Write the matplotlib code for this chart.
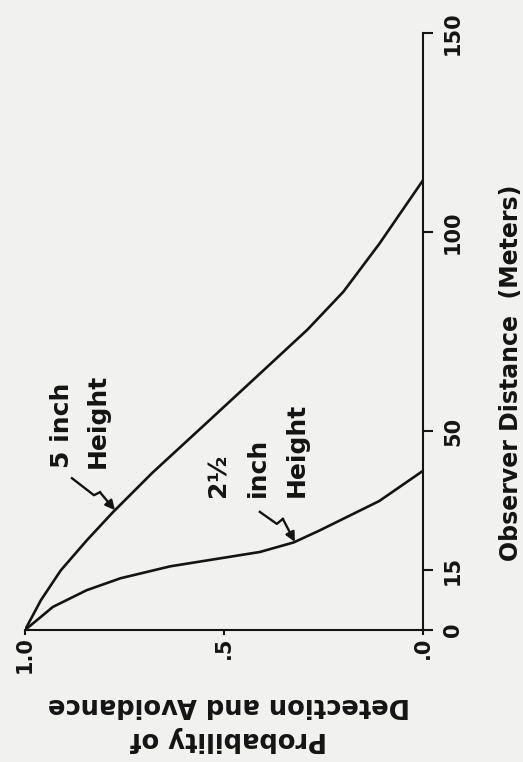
import numpy as np
import matplotlib
matplotlib.use("Agg")
import matplotlib.pyplot as plt
from matplotlib.lines import Line2D
from matplotlib.transforms import ScaledTranslation

# observer distance (m) vs probability of detection and avoidance
dist_5in = [0, 7.5, 15, 22.5, 29.5, 39.5, 51, 63, 75.5, 85, 97, 113]
prob_5in = [1.0, 0.96, 0.91, 0.845, 0.78, 0.68, 0.555, 0.425, 0.29, 0.2, 0.11, 0.0]

dist_25in = [0, 3.3, 5.8, 10, 13, 16, 18, 19.6, 22, 25, 32.4, 40]
prob_25in = [1.0, 0.96, 0.93, 0.845, 0.76, 0.635, 0.51, 0.41, 0.325, 0.26, 0.11, 0.0]

dist_ticks = [0, 15, 50, 100, 150]
prob_ticks = [1.0, 0.5, 0.0]
prob_labels = ['1.0', '.5', '.0']

ink = '#141414'
bg = '#f1f1f0'

fig = plt.figure(figsize=(5.23, 7.62), dpi=100, facecolor=bg)
ax = fig.add_axes([25/523, 132/762, 398/523, 597/762])
ax.set_facecolor(bg)

ax.plot(prob_5in, dist_5in, color=ink, lw=1.9, solid_capstyle='round')
ax.plot(prob_25in, dist_25in, color=ink, lw=1.9, solid_capstyle='round')

ax.set_xlim(1.0, 0.0)
ax.set_ylim(0, 150)

for s in ['left', 'top']:
    ax.spines[s].set_visible(False)
for s in ['bottom', 'right']:
    ax.spines[s].set_color(ink)
    ax.spines[s].set_linewidth(1.5)

ax.yaxis.tick_right()
ax.yaxis.set_label_position('right')
ax.set_yticks(dist_ticks)
ax.set_yticklabels([str(t) for t in dist_ticks])
ax.tick_params(axis='y', direction='out', length=7.5, width=1.5, color=ink, pad=7,
               labelsize=15, labelcolor=ink)
for lab in ax.get_yticklabels():
    lab.set_rotation(90)
    lab.set_va('center')
    lab.set_fontweight('bold')

ax.set_xticks(prob_ticks)
ax.set_xticklabels(prob_labels)
ax.tick_params(axis='x', direction='out', length=3.5, width=1.5, color=ink, pad=1,
               labelsize=15, labelcolor=ink)
for lab in ax.get_xticklabels():
    lab.set_rotation(90)
    lab.set_ha('center')
    lab.set_va('top')
    lab.set_fontweight('bold')

ax.set_ylabel('Observer Distance  (Meters)', fontsize=17, fontweight='bold',
              color=ink, rotation=90)
ax.yaxis.set_label_coords(1.19, 0.43)

fig.text(0.438, 0.0525, 'Probability of\nDetection and Avoidance', rotation=180,
         ha='center', va='center', multialignment='center', linespacing=1.4,
         fontsize=18.5, fontweight='bold', color=ink)

# curve labels
ax.text(0.862, 52.5, '5 inch\nHeight', rotation=90, ha='center', va='center',
        multialignment='left', linespacing=1.6, fontsize=18, fontweight='bold', color=ink)
ax.text(0.415, 45.2, '2\u00bd\ninch\nHeight', rotation=90, ha='center', va='center',
        multialignment='left', linespacing=1.8, fontsize=18, fontweight='bold', color=ink)


def bolt(p_tip, prob, dist, offs):
    # lightning arrow ending on the curve; offsets in pixels from the tip
    d_tip = np.interp(p_tip, prob[::-1], dist[::-1])
    trans = fig.dpi_scale_trans + ScaledTranslation(p_tip, d_tip, ax.transData)
    pts = np.array(offs) / fig.dpi
    fig.add_artist(Line2D(pts[:-1, 0], pts[:-1, 1], transform=trans, color=ink, lw=1.7))
    ax.annotate('', xy=(0, 0), xycoords=trans, xytext=tuple(pts[-2]), textcoords=trans,
                arrowprops=dict(arrowstyle='-|>', color=ink, lw=1.7, mutation_scale=14,
                                shrinkA=0, shrinkB=0))


bolt(0.774, prob_5in, dist_5in, [(-43, 32), (-21, 15), (-15, 18), (0, 0)])
bolt(0.322, prob_25in, dist_25in, [(-35, 30), (-18, 18), (-12, 23), (0, 0)])

fig.savefig('out.png', dpi=100, facecolor=bg)
